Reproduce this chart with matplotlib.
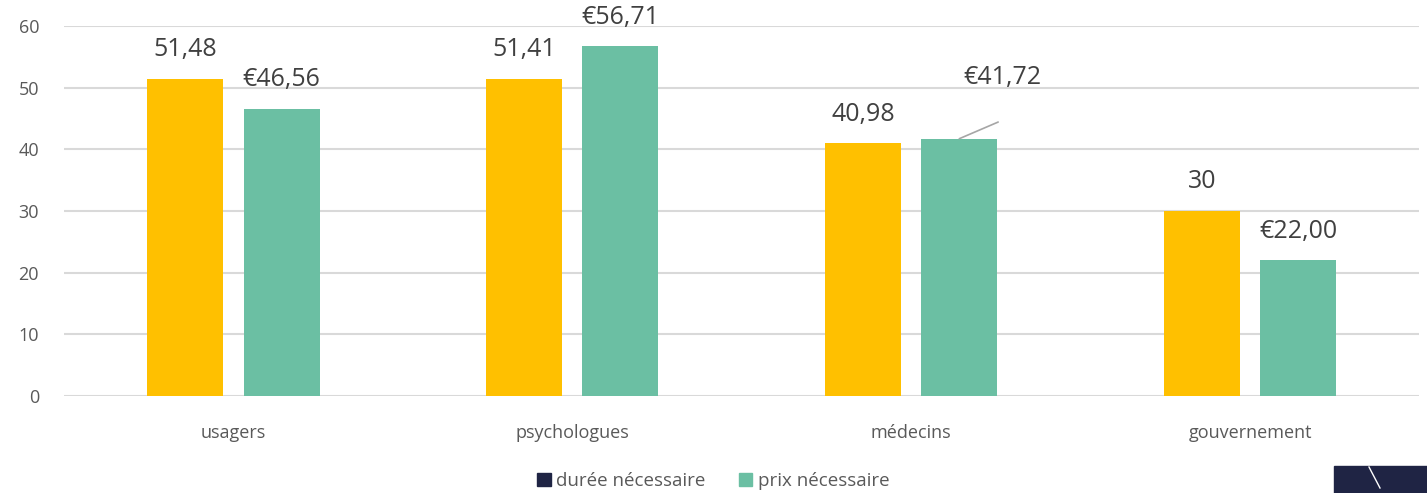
import numpy as np
import matplotlib.pyplot as plt
from matplotlib.patches import Patch, Rectangle

plt.rcParams['font.family'] = ['Open Sans', 'DejaVu Sans']

# données
categories = ['usagers', 'psychologues', 'médecins', 'gouvernement']
duree = [51.48, 51.41, 40.98, 30]
prix = [46.56, 56.71, 41.72, 22.00]
duree_labels = ['51,48', '51,41', '40,98', '30']
prix_labels = ['€46,56', '€56,71', '€41,72', '€22,00']
yticks = [0, 10, 20, 30, 40, 50, 60]

jaune = '#FFC000'
vert = '#6BBFA3'
marine = '#1F2444'
gris_txt = '#595959'

fig = plt.figure(figsize=(14.27, 4.93), dpi=100)
ax = fig.add_axes([0.0449, 0.1968, 0.9498, 0.7505])

x = np.arange(len(categories))
w = 0.224
off = 0.142
ax.bar(x - off, duree, w, color=jaune, zorder=3)
ax.bar(x + off, prix, w, color=vert, zorder=3)

ax.set_xlim(-0.5, len(categories) - 0.5)
ax.set_ylim(0, 60)
ax.set_yticks(yticks)
ax.set_xticks(x)
ax.set_xticklabels(categories)
ax.grid(axis='y', color='#D9D9D9', linewidth=1.5, zorder=0)
for s in ax.spines.values():
    s.set_visible(False)
ax.tick_params(axis='both', length=0, labelsize=13, colors=gris_txt)
ax.tick_params(axis='y', pad=18)
ax.tick_params(axis='x', pad=20)

# étiquettes de données
for i, (v, lab) in enumerate(zip(duree, duree_labels)):
    ax.annotate(lab, (x[i] - off, v), xytext=(0, 12), textcoords='offset points',
                ha='center', va='bottom', fontsize=18, color='#404040')
for i, (v, lab) in enumerate(zip(prix, prix_labels)):
    if categories[i] == 'médecins':
        # étiquette déplacée avec ligne de rappel
        ax.annotate(lab, (x[i] + off, v), xytext=(31, 44), textcoords='offset points',
                    ha='center', va='center', fontsize=18, color='#404040')
        ax.annotate('', (x[i] + off, v), xytext=(28, 12), textcoords='offset points',
                    arrowprops=dict(arrowstyle='-', color='#A6A6A6', lw=1.2,
                                    shrinkA=0, shrinkB=0))
    else:
        ax.annotate(lab, (x[i] + off, v), xytext=(0, 12), textcoords='offset points',
                    ha='center', va='bottom', fontsize=18, color='#404040')

handles = [Patch(color=marine, label='durée nécessaire'),
           Patch(color=vert, label='prix nécessaire')]
fig.legend(handles=handles, loc='center', bbox_to_anchor=(0.5, 0.025), ncol=2,
           frameon=False, fontsize=13.5, handlelength=0.7, handleheight=0.7,
           handletextpad=0.3, columnspacing=1.8, labelcolor=gris_txt)

# fragment de logo en bas à droite
fig.patches.append(Rectangle((1334 / 1427, 0), 93 / 1427, 27 / 493,
                             transform=fig.transFigure, color=marine, zorder=0))
fig.add_artist(plt.Line2D([1369 / 1427, 1380 / 1427], [26 / 493, 5 / 493],
                          transform=fig.transFigure, color='white', lw=1))

fig.savefig('out.png', dpi=100, facecolor='white')
